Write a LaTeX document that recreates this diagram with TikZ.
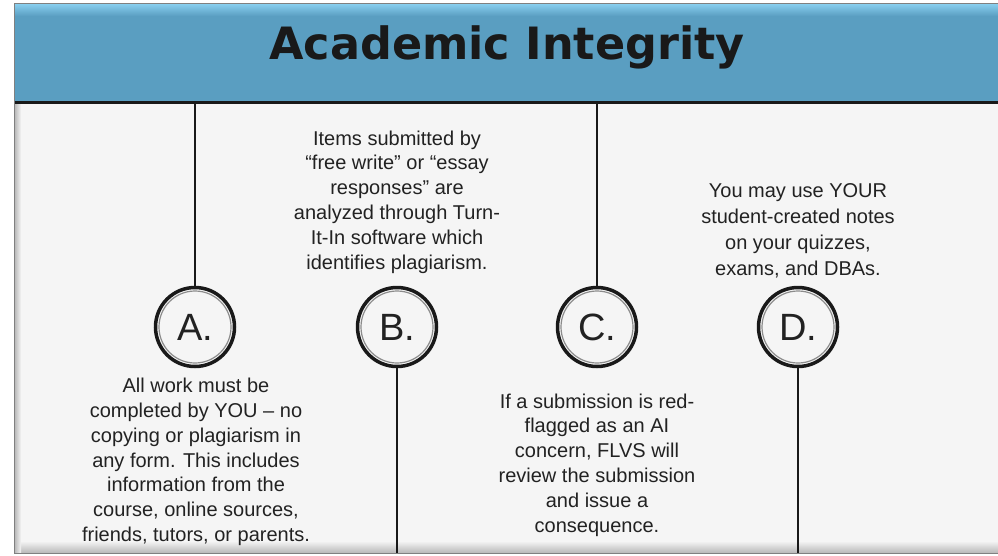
\documentclass[tikz,border=0pt]{standalone}
\usepackage{fontspec}
\setmainfont{Liberation Sans}
\newfontfamily\titlefont{DejaVu Sans}
\begin{document}
\begin{tikzpicture}[x=1pt,y=-1pt]
\definecolor{hdr}{RGB}{90,158,193}
\definecolor{hdrlight}{RGB}{140,210,242}
\definecolor{bg}{RGB}{245,245,245}
\definecolor{txt}{RGB}{34,34,34}
\tikzset{
  letter/.style={circle, draw=black!90, line width=3.5pt, minimum size=79pt, inner sep=0pt, fill=bg,
    font=\fontsize{38}{40}\selectfont, text=txt},
  ring/.style={draw=black!45, line width=1.2pt},
  stem/.style={line width=2.5pt, draw=black!90},
  body/.style={align=center, font=\fontsize{20}{26}\selectfont, text=txt},
  bodytight/.style={align=center, font=\fontsize{20}{24.8}\selectfont, text=txt}
}
\useasboundingbox (0,0) rectangle (998,555);
% content panel
\fill[bg] (14,104) rectangle (998,553);
\shade[top color=bg, bottom color=black!28] (14,541) rectangle (998,553);
\shade[left color=black!30, right color=bg] (14,104) rectangle (21,553);
% header
\fill[hdr] (14,3) rectangle (998,101);
\shade[top color=hdrlight, bottom color=hdr] (14,3) rectangle (998,16);
\draw[line width=3.2pt, black!90] (14,102.5) -- (998,102.5);
\draw[black!50, line width=0.8pt] (14,3) rectangle (998,553);
\node[anchor=base, text=black!90, font=\titlefont\bfseries\fontsize{44.5}{50}\selectfont] (title) at (507,59) {Academic Integrity};
% circles
\node[letter] (A) at (195,327) {A.};
\node[letter] (B) at (397,327) {B.};
\node[letter] (C) at (597,327) {C.};
\node[letter] (D) at (798,327) {D.};
\foreach \n in {A,B,C,D} \draw[ring] (\n.center) circle (36pt);
% stems
\coordinate (Atop) at (195,104);
\coordinate (Ctop) at (597,104);
\coordinate (Bbot) at (397,553);
\coordinate (Dbot) at (798,553);
\draw[stem] (Atop) -- (A);
\draw[stem] (Ctop) -- (C);
\draw[stem] (B) -- (Bbot);
\draw[stem] (D) -- (Dbot);
% texts
\node[bodytight] (tB) at (397,202) {Items submitted by\\“free write” or “essay\\responses” are\\analyzed through Turn-\\It-In software which\\identifies plagiarism.};
\node[body] (tD) at (798,231) {You may use YOUR\\student-created notes\\on your quizzes,\\exams, and DBAs.};
\node[bodytight] (tA) at (196,462) {All work must be\\completed by YOU – no\\copying or plagiarism in\\any form. This includes\\information from the\\course, online sources,\\friends, tutors, or parents.};
\node[bodytight] (tC) at (597,465) {If a submission is red-\\flagged as an AI\\concern, FLVS will\\review the submission\\and issue a\\consequence.};
\end{tikzpicture}
\end{document}
